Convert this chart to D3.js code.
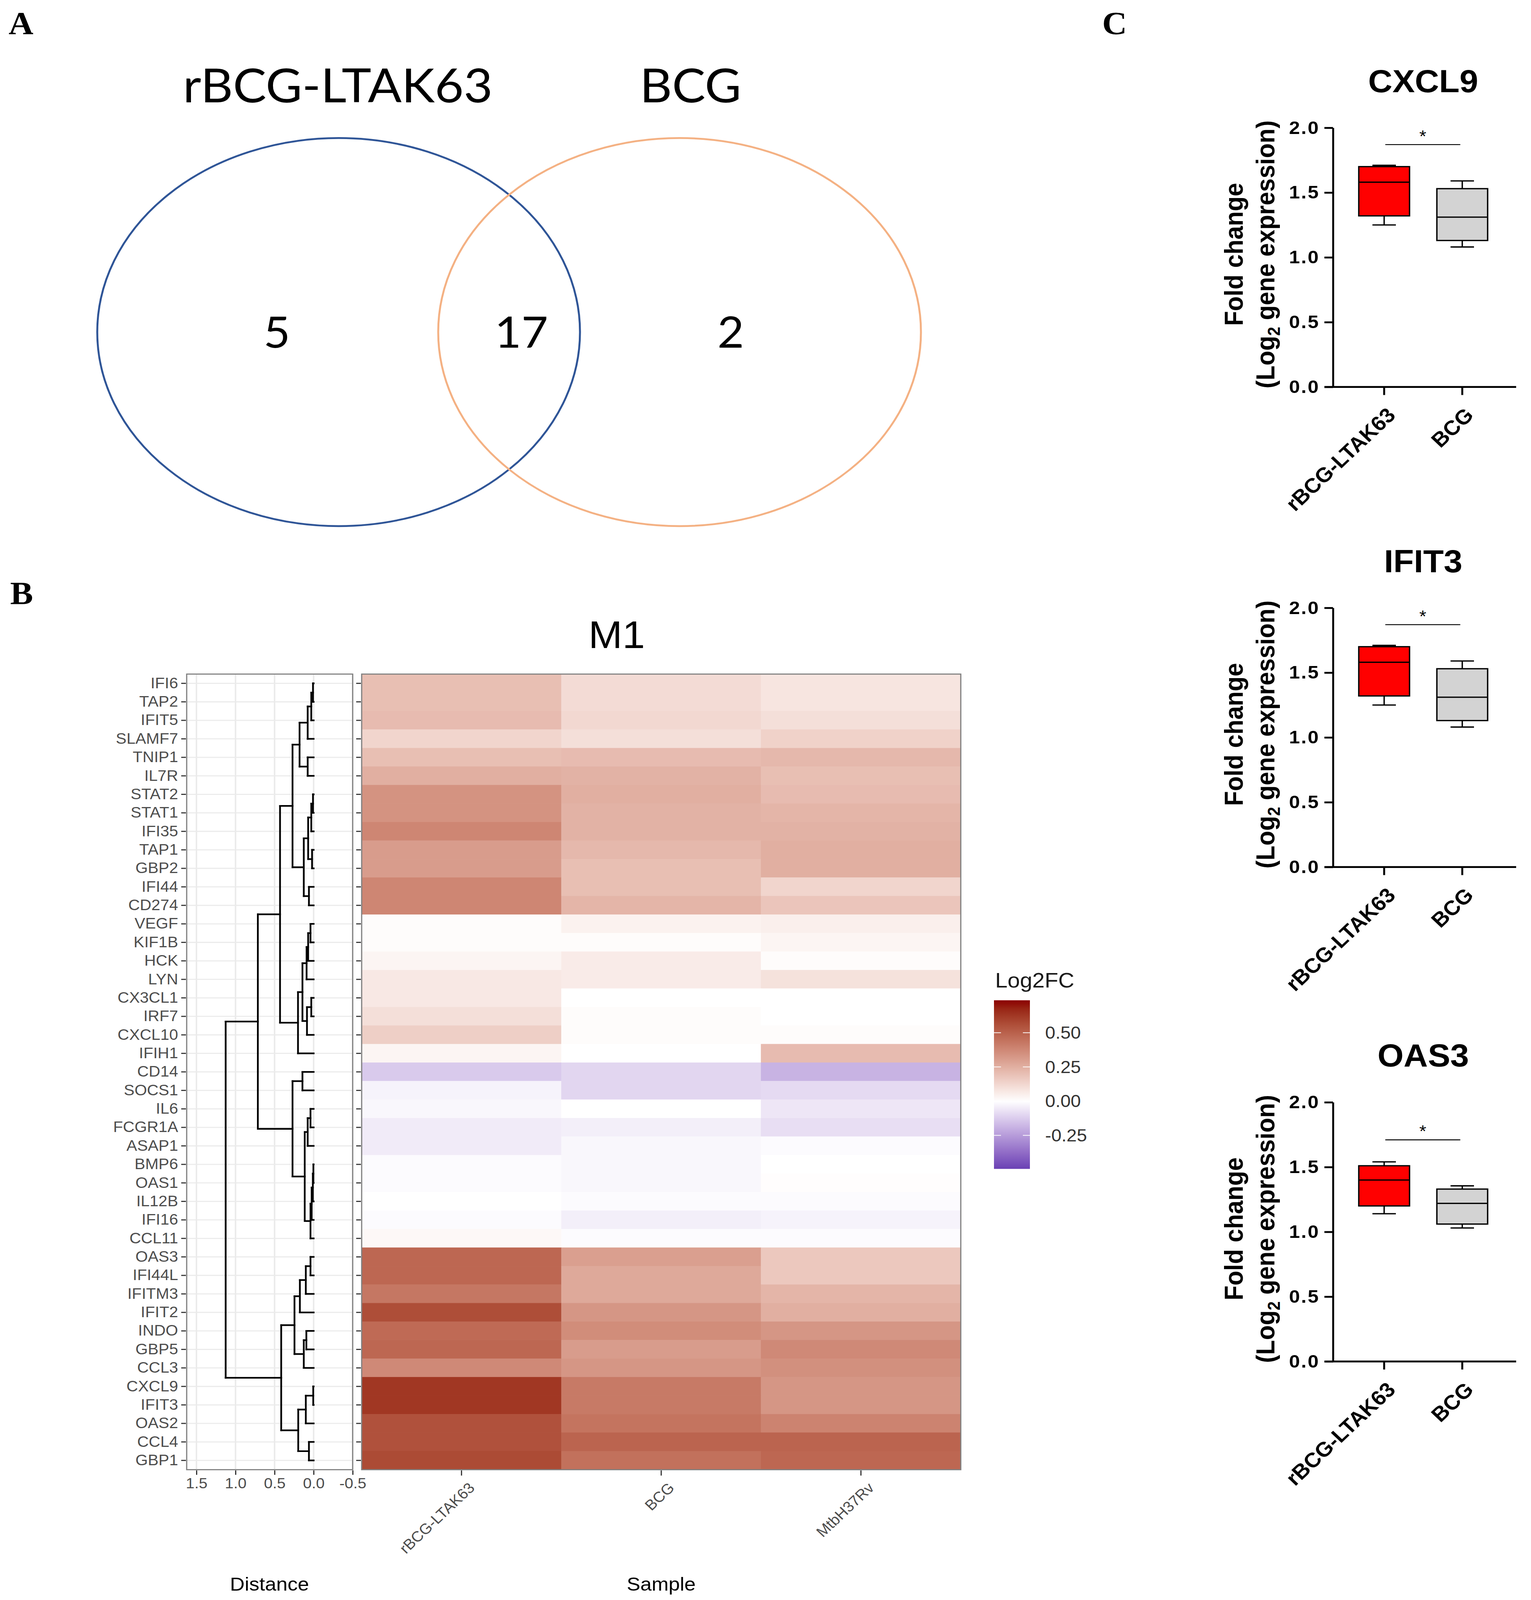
<!DOCTYPE html>
<html>
<head>
<meta charset="utf-8">
<script src="https://cdn.jsdelivr.net/npm/d3@7"></script>
<style>
  html, body { margin: 0; padding: 0; background: #fff; overflow: hidden; }
</style>
</head>
<body>
<script>
// ---- data ----
const vennSets = ["rBCG-LTAK63", "BCG"];
const vennCounts = [5, 17, 2]; // only rBCG, both, only BCG

const samples = ["rBCG-LTAK63", "BCG", "MtbH37Rv"];
const genes = [
  "IFI6", "TAP2", "IFIT5", "SLAMF7", "TNIP1", "IL7R", "STAT2", "STAT1", "IFI35",
  "TAP1", "GBP2", "IFI44", "CD274", "VEGF", "KIF1B", "HCK", "LYN", "CX3CL1", "IRF7",
  "CXCL10", "IFIH1", "CD14", "SOCS1", "IL6", "FCGR1A", "ASAP1", "BMP6", "OAS1",
  "IL12B", "IFI16", "CCL11", "OAS3", "IFI44L", "IFITM3", "IFIT2", "INDO", "GBP5",
  "CCL3", "CXCL9", "IFIT3", "OAS2", "CCL4", "GBP1"
];
// log2 fold change per gene: [rBCG-LTAK63, BCG, MtbH37Rv]
const log2fc = [
  [0.20, 0.11, 0.08], [0.20, 0.11, 0.08], [0.21, 0.12, 0.10], [0.13, 0.10, 0.14],
  [0.20, 0.21, 0.22], [0.25, 0.24, 0.20], [0.34, 0.25, 0.21], [0.34, 0.24, 0.23],
  [0.38, 0.24, 0.24], [0.31, 0.22, 0.25], [0.31, 0.20, 0.25], [0.38, 0.20, 0.13],
  [0.38, 0.23, 0.18], [0.01, 0.04, 0.05], [0.01, 0.01, 0.03], [0.03, 0.06, 0.01],
  [0.07, 0.06, 0.09], [0.07, 0.00, 0.00], [0.10, 0.01, 0.00], [0.15, 0.01, 0.01],
  [0.03, 0.00, 0.21], [-0.13, -0.10, -0.19], [-0.03, -0.10, -0.09], [-0.02, 0.00, -0.06],
  [-0.05, -0.04, -0.08], [-0.05, -0.02, -0.01], [-0.01, -0.02, 0.00], [-0.01, -0.02, 0.005],
  [0.00, -0.01, -0.01], [-0.01, -0.04, -0.03], [0.02, -0.01, -0.01], [0.48, 0.30, 0.17],
  [0.48, 0.27, 0.17], [0.43, 0.27, 0.23], [0.56, 0.33, 0.25], [0.47, 0.36, 0.33],
  [0.48, 0.31, 0.37], [0.37, 0.33, 0.35], [0.63, 0.42, 0.33], [0.63, 0.42, 0.33],
  [0.55, 0.44, 0.39], [0.55, 0.49, 0.49], [0.57, 0.45, 0.48]
];
const fcRange = [-0.495, 0.737];
const legendTicks = [-0.25, 0, 0.25, 0.5];

// dendrogram: [left, right, merge height]
const dendroTree = [
  [
    [
      [
        [[[["IFI6", "TAP2", 0.008], "IFIT5", 0.03], "SLAMF7", 0.076], ["TNIP1", "IL7R", 0.076], 0.18],
        [[[["STAT2", "STAT1", 0.008], "IFI35", 0.03], ["TAP1", "GBP2", 0.02], 0.07], ["IFI44", "CD274", 0.06], 0.126],
        0.27
      ],
      [
        [[[["VEGF", "KIF1B", 0.04], "HCK", 0.07], "LYN", 0.09], [["CX3CL1", "IRF7", 0.03], "CXCL10", 0.085], 0.143],
        "IFIH1", 0.2
      ],
      0.43
    ],
    [
      ["CD14", "SOCS1", 0.143],
      [[["IL6", "FCGR1A", 0.04], "ASAP1", 0.076], [[[["BMP6", "OAS1", 0.003], "IL12B", 0.01], "IFI16", 0.025], "CCL11", 0.04], 0.114],
      0.27
    ],
    0.714
  ],
  [
    [[[["OAS3", "IFI44L", 0.04], "IFITM3", 0.1], "IFIT2", 0.176], [["INDO", "GBP5", 0.093], "CCL3", 0.126], 0.245],
    [[["CXCL9", "IFIT3", 0.005], "OAS2", 0.1], ["CCL4", "GBP1", 0.06], 0.197],
    0.415
  ],
  1.126
];
const distTicks = [1.5, 1.0, 0.5, 0.0, -0.5];

// box plots: [min, q1, median, q3, max] for rBCG-LTAK63 and BCG
const boxGenes = ["CXCL9", "IFIT3", "OAS3"];
const boxGroups = ["rBCG-LTAK63", "BCG"];
const boxStats = [
  [[1.25, 1.32, 1.58, 1.70, 1.71], [1.08, 1.13, 1.31, 1.53, 1.59]],
  [[1.25, 1.32, 1.58, 1.70, 1.71], [1.08, 1.13, 1.31, 1.53, 1.59]],
  [[1.14, 1.20, 1.40, 1.51, 1.54], [1.03, 1.06, 1.22, 1.33, 1.355]]
];
const sigLevels = [1.87, 1.87, 1.71];
const boxFills = ["#FF0000", "#D3D3D3"];
const boxTicks = [0, 0.5, 1.0, 1.5, 2.0];

// ---- setup ----
const W = 3920, H = 4346;
// the drawing is laid out on a 3920x4346 board and stretched to fill the viewport
const svg = d3.select("body").append("svg")
  .attr("viewBox", `0 0 ${W} ${H}`)
  .attr("preserveAspectRatio", "none")
  .style("width", "100vw").style("height", "100vh")
  .style("display", "block");
svg.append("rect").attr("width", W).attr("height", H).attr("fill", "#fff");

const sans = "'Liberation Sans', Arial, sans-serif";
const serif = "'Liberation Serif', 'Times New Roman', serif";

const panelLetter = (x, y, s) => svg.append("text")
  .attr("x", x).attr("y", y).text(s)
  .style("font-family", serif).style("font-weight", "bold").style("font-size", "88px");

panelLetter(22, 92, "A");
panelLetter(26, 1640, "B");
panelLetter(2822, 92, "C");

// ---- A: Venn ----
const venn = svg.append("g");
const vennX = d3.scalePoint().domain(vennSets).range([867, 1740]);
venn.selectAll("ellipse").data(vennSets).join("ellipse")
  .attr("cx", d => vennX(d)).attr("cy", 902)
  .attr("rx", 618).attr("ry", 527)
  .attr("fill", "none")
  .attr("stroke", (d, i) => i === 0 ? "#2F5597" : "#F4B183")
  .attr("stroke-width", 5);
venn.selectAll("text.set").data(vennSets).join("text")
  .attr("class", "set")
  .attr("x", (d, i) => i === 0 ? 865 : 1768).attr("y", 278)
  .attr("text-anchor", "middle")
  .style("font-family", "Lato, 'Open Sans', sans-serif").style("font-size", "128px")
  .text(d => d);
const countX = [709, 1335, 1871];
venn.selectAll("text.count").data(vennCounts).join("text")
  .attr("class", "count")
  .attr("x", (d, i) => countX[i]).attr("y", 944)
  .attr("text-anchor", "middle")
  .style("font-family", "Lato, 'Open Sans', sans-serif").style("font-size", "118px")
  .text(d => d);

// ---- B: dendrogram + heatmap ----
const hmTop = 1831, hmBottom = 3992;
const yGene = d3.scaleBand().domain(genes).range([hmTop, hmBottom]);
const bw = yGene.bandwidth();
const xSample = d3.scaleBand().domain(samples).range([926, 2460]);
const xDist = d3.scaleLinear().domain([1.625, -0.5]).range([478, 903]);
const color = d3.scaleLinear()
  .domain([fcRange[0], 0, fcRange[1]])
  .range(["#6A40B4", "#ffffff", "#8B0000"])
  .interpolate(d3.interpolateLab);
const grey = "#4D4D4D";

svg.append("text").attr("x", 1579).attr("y", 1760).attr("text-anchor", "middle")
  .style("font-family", sans).style("font-size", "104px").text("M1");

// dendrogram panel
const dg = svg.append("g");
dg.append("rect").attr("x", 478).attr("y", hmTop).attr("width", 425).attr("height", hmBottom - hmTop)
  .attr("fill", "#fff");
dg.selectAll("line.hgrid").data(genes).join("line")
  .attr("class", "hgrid")
  .attr("x1", 478).attr("x2", 903)
  .attr("y1", d => yGene(d) + bw / 2).attr("y2", d => yGene(d) + bw / 2)
  .attr("stroke", "#EBEBEB").attr("stroke-width", 3);
dg.selectAll("line.vgrid").data(distTicks).join("line")
  .attr("class", "vgrid")
  .attr("x1", d => xDist(d)).attr("x2", d => xDist(d))
  .attr("y1", hmTop).attr("y2", hmBottom)
  .attr("stroke", "#EBEBEB").attr("stroke-width", 4);

const segs = [];
const walk = (node) => {
  if (typeof node === "string") return { y: yGene(node) + bw / 2, h: 0 };
  const [a, b, h] = node;
  const A = walk(a), B = walk(b);
  segs.push([h, A.y, h, B.y]);
  segs.push([h, A.y, A.h, A.y]);
  segs.push([h, B.y, B.h, B.y]);
  return { y: (A.y + B.y) / 2, h };
};
walk(dendroTree);
dg.selectAll("line.seg").data(segs).join("line")
  .attr("class", "seg")
  .attr("x1", d => xDist(d[0])).attr("y1", d => d[1])
  .attr("x2", d => xDist(d[2])).attr("y2", d => d[3])
  .attr("stroke", "#000").attr("stroke-width", 4.5).attr("stroke-linecap", "square");

dg.append("rect").attr("x", 478).attr("y", hmTop).attr("width", 425).attr("height", hmBottom - hmTop)
  .attr("fill", "none").attr("stroke", "#7F7F7F").attr("stroke-width", 3);

const styleAxis = (g, size) => {
  g.select(".domain").remove();
  g.selectAll(".tick line").attr("stroke", "#333").attr("stroke-width", 3);
  g.selectAll(".tick text").attr("fill", grey)
    .style("font-family", sans).style("font-size", size);
};

svg.append("g").attr("transform", "translate(476,0)")
  .call(d3.axisLeft(yGene).tickSize(12).tickPadding(8))
  .call(g => styleAxis(g, "41px"));

svg.append("g").attr("transform", `translate(0,${hmBottom + 2})`)
  .call(d3.axisBottom(xDist).tickValues(distTicks).tickFormat(d => d.toFixed(1))
    .tickSize(12).tickPadding(8))
  .call(g => styleAxis(g, "40px"));

// heatmap cells
const cells = [];
genes.forEach((g, i) => samples.forEach((s, j) => cells.push({ g, s, v: log2fc[i][j] })));
svg.append("g").selectAll("rect").data(cells).join("rect")
  .attr("x", d => xSample(d.s)).attr("y", d => yGene(d.g))
  .attr("width", xSample.bandwidth()).attr("height", bw)
  .attr("fill", d => color(d.v)).attr("stroke", d => color(d.v)).attr("stroke-width", 0.8);
svg.append("rect").attr("x", 926).attr("y", hmTop).attr("width", 1534).attr("height", hmBottom - hmTop)
  .attr("fill", "none").attr("stroke", "#7F7F7F").attr("stroke-width", 3);

svg.append("g").attr("transform", "translate(924,0)")
  .call(d3.axisLeft(yGene).tickSize(12).tickFormat(""))
  .call(g => styleAxis(g, "40px"));

svg.append("g").attr("transform", `translate(0,${hmBottom + 2})`)
  .call(d3.axisBottom(xSample).tickSize(14).tickFormat(""))
  .call(g => styleAxis(g, "40px"));
svg.append("g").selectAll("text").data(samples).join("text")
  .attr("transform", d => `translate(${xSample(d) + xSample.bandwidth() / 2 + 36},${hmBottom + 52}) rotate(-45)`)
  .attr("text-anchor", "end")
  .attr("fill", grey)
  .style("font-family", sans).style("font-size", "40px")
  .text(d => d);

svg.append("text").attr("x", 690).attr("y", 4321).attr("text-anchor", "middle")
  .style("font-family", sans).style("font-size", "52px").text("Distance");
svg.append("text").attr("x", 1693).attr("y", 4321).attr("text-anchor", "middle")
  .style("font-family", sans).style("font-size", "52px").text("Sample");

// legend
const lg = svg.append("g");
const legY = d3.scaleLinear().domain(fcRange).range([3175, 2717]);
const grad = svg.append("defs").append("linearGradient")
  .attr("id", "fcgrad").attr("x1", 0).attr("x2", 0).attr("y1", 1).attr("y2", 0);
d3.range(0, 1.0001, 0.05).forEach(t => {
  const v = fcRange[0] + t * (fcRange[1] - fcRange[0]);
  grad.append("stop").attr("offset", t).attr("stop-color", color(v));
});
lg.append("text").attr("x", 2548).attr("y", 2682)
  .style("font-family", sans).style("font-size", "57px").attr("fill", "#1a1a1a").text("Log2FC");
lg.append("rect").attr("x", 2545).attr("y", 2717).attr("width", 92).attr("height", 458)
  .attr("fill", "url(#fcgrad)");
lg.selectAll("line.tl").data(legendTicks).join("line")
  .attr("class", "tl")
  .attr("x1", 2545).attr("x2", 2563)
  .attr("y1", d => legY(d)).attr("y2", d => legY(d))
  .attr("stroke", "#fff").attr("stroke-width", 2);
lg.selectAll("line.tr").data(legendTicks).join("line")
  .attr("class", "tr")
  .attr("x1", 2619).attr("x2", 2637)
  .attr("y1", d => legY(d)).attr("y2", d => legY(d))
  .attr("stroke", "#fff").attr("stroke-width", 2);
lg.selectAll("text.lab").data(legendTicks).join("text")
  .attr("class", "lab")
  .attr("x", 2676).attr("y", d => legY(d)).attr("dy", "0.35em")
  .attr("fill", "#333")
  .style("font-family", sans).style("font-size", "47px")
  .text(d => d.toFixed(2));

// ---- C: box plots ----
const plotTops = [347, 1651, 2994];
const plotH = 704;
const yAxisX = 3413;
const xGroup = d3.scalePoint().domain(boxGroups).range([3544, 3744]);
const boxHalf = 65, capHalf = 30;

boxGenes.forEach((gene, k) => {
  const t0 = plotTops[k];
  const y = d3.scaleLinear().domain([0, 2]).range([t0 + plotH, t0]);
  const g = svg.append("g");

  g.append("text").attr("x", 3644).attr("y", t0 - 97).attr("text-anchor", "middle")
    .style("font-family", sans).style("font-weight", "bold").style("font-size", "86px")
    .text(gene);

  // y axis
  const ya = g.append("g").attr("transform", `translate(${yAxisX},0)`)
    .call(d3.axisLeft(y).tickValues(boxTicks).tickFormat(d3.format(".1f")).tickSize(22).tickSizeOuter(0).tickPadding(12));
  ya.select(".domain").attr("stroke", "#000").attr("stroke-width", 5);
  ya.selectAll(".tick line").attr("stroke", "#000").attr("stroke-width", 5);
  ya.selectAll(".tick text").attr("fill", "#000")
    .style("font-family", sans).style("font-weight", "bold").style("font-size", "50px")
    .style("letter-spacing", "3px");

  // x axis
  g.append("line").attr("x1", 3391).attr("x2", 3882)
    .attr("y1", y(0)).attr("y2", y(0))
    .attr("stroke", "#000").attr("stroke-width", 5);
  g.selectAll("line.xt").data(boxGroups).join("line")
    .attr("class", "xt")
    .attr("x1", d => xGroup(d)).attr("x2", d => xGroup(d))
    .attr("y1", y(0)).attr("y2", y(0) + 22)
    .attr("stroke", "#000").attr("stroke-width", 5);
  g.selectAll("text.xl").data(boxGroups).join("text")
    .attr("class", "xl")
    .attr("transform", d => `translate(${xGroup(d) + 32},${y(0) + 80}) rotate(-45)`)
    .attr("text-anchor", "end")
    .style("font-family", sans).style("font-weight", "bold").style("font-size", "56px")
    .text(d => d);

  // y title
  const yc = t0 + plotH / 2 - 8;
  g.append("text").attr("transform", `translate(3182,${yc}) rotate(-90)`)
    .attr("text-anchor", "middle")
    .style("font-family", sans).style("font-weight", "bold").style("font-size", "66px")
    .text("Fold change");
  const t2 = g.append("text").attr("transform", `translate(3263,${yc}) rotate(-90)`)
    .attr("text-anchor", "middle")
    .style("font-family", sans).style("font-weight", "bold").style("font-size", "66px");
  t2.append("tspan").text("(Log");
  t2.append("tspan").attr("dy", 14).style("font-size", "44px").text("2");
  t2.append("tspan").attr("dy", -14).text(" gene expression)");

  // boxes
  boxStats[k].forEach((s, j) => {
    const cx = xGroup(boxGroups[j]);
    const [mn, q1, md, q3, mx] = s;
    const bx = g.append("g").attr("stroke", "#000").attr("stroke-width", 3.5);
    bx.append("line").attr("x1", cx).attr("x2", cx).attr("y1", y(q3)).attr("y2", y(mx));
    bx.append("line").attr("x1", cx).attr("x2", cx).attr("y1", y(q1)).attr("y2", y(mn));
    bx.append("line").attr("x1", cx - capHalf).attr("x2", cx + capHalf).attr("y1", y(mx)).attr("y2", y(mx));
    bx.append("line").attr("x1", cx - capHalf).attr("x2", cx + capHalf).attr("y1", y(mn)).attr("y2", y(mn));
    bx.append("rect").attr("x", cx - boxHalf).attr("width", boxHalf * 2)
      .attr("y", y(q3)).attr("height", y(q1) - y(q3))
      .attr("fill", boxFills[j]);
    bx.append("line").attr("x1", cx - boxHalf).attr("x2", cx + boxHalf).attr("y1", y(md)).attr("y2", y(md));
  });

  // significance
  g.append("line").attr("x1", 3547).attr("x2", 3739)
    .attr("y1", y(sigLevels[k])).attr("y2", y(sigLevels[k]))
    .attr("stroke", "#000").attr("stroke-width", 2.5);
  g.append("text").attr("x", 3643).attr("y", y(sigLevels[k]) - 8).attr("text-anchor", "middle")
    .style("font-family", sans).style("font-size", "46px").text("*");
});
</script>
</body>
</html>
